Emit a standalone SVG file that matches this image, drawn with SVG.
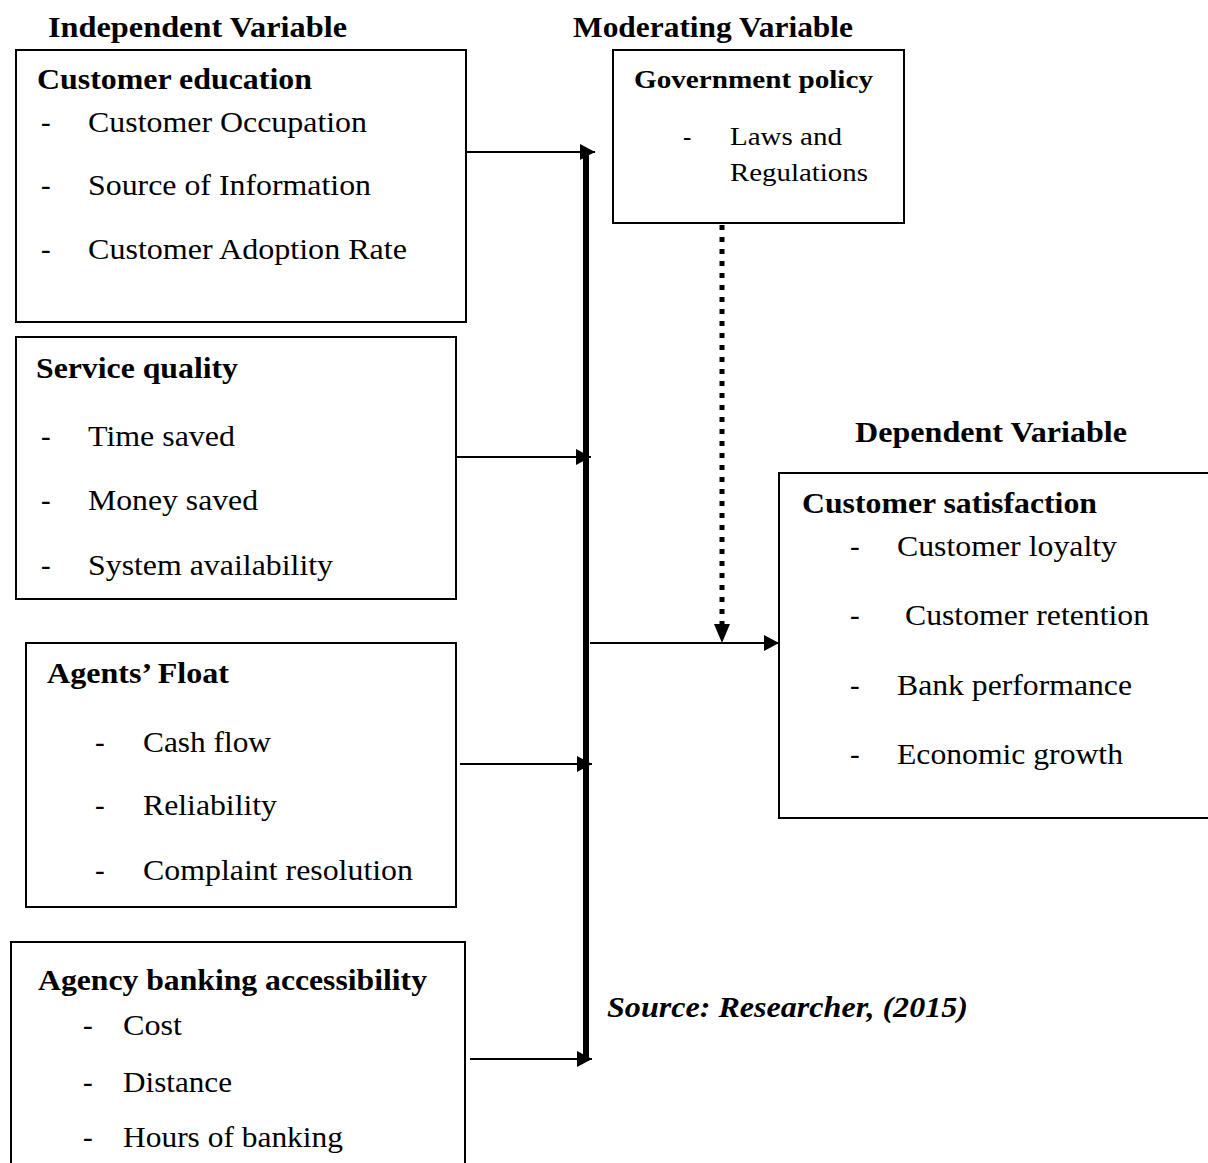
<svg xmlns="http://www.w3.org/2000/svg" width="1208" height="1163" viewBox="0 0 1208 1163">
<style>
text{font-family:"Liberation Serif","Times New Roman",serif;font-size:29px;fill:#000}
.b{font-weight:bold}
.s{font-size:25px}
.bi{font-weight:bold;font-style:italic}
.box{fill:#fff;stroke:#000;stroke-width:2}
.ln{stroke:#000;stroke-width:2;fill:none}
</style>
<defs>
<marker id="ah" markerUnits="userSpaceOnUse" markerWidth="16" markerHeight="16" refX="15" refY="8" orient="auto">
<path d="M0,0 L15,8 L0,16 z" fill="#000"/>
</marker>
</defs>
<rect width="1208" height="1163" fill="#fff"/>
<text class="b" x="48" y="37" textLength="299" lengthAdjust="spacingAndGlyphs">Independent Variable</text>
<text class="b" x="573" y="37" textLength="280" lengthAdjust="spacingAndGlyphs">Moderating Variable</text>
<text class="b" x="855" y="442" textLength="272" lengthAdjust="spacingAndGlyphs">Dependent Variable</text>
<g id="customer-education">
<rect class="box" x="16" y="50" width="450" height="272"/>
<text class="b" x="37" y="89" textLength="275" lengthAdjust="spacingAndGlyphs">Customer education</text>
<text x="41" y="132">-</text><text x="88" y="132" textLength="279" lengthAdjust="spacingAndGlyphs">Customer Occupation</text>
<text x="41" y="195">-</text><text x="88" y="195" textLength="283" lengthAdjust="spacingAndGlyphs">Source of Information</text>
<text x="41" y="259">-</text><text x="88" y="259" textLength="319" lengthAdjust="spacingAndGlyphs">Customer Adoption Rate</text>
</g>
<g id="service-quality">
<rect class="box" x="16" y="337" width="440" height="262"/>
<text class="b" x="36" y="378" textLength="202" lengthAdjust="spacingAndGlyphs">Service quality</text>
<text x="41" y="446">-</text><text x="88" y="446" textLength="147" lengthAdjust="spacingAndGlyphs">Time saved</text>
<text x="41" y="510">-</text><text x="88" y="510" textLength="170" lengthAdjust="spacingAndGlyphs">Money saved</text>
<text x="41" y="575">-</text><text x="88" y="575" textLength="245" lengthAdjust="spacingAndGlyphs">System availability</text>
</g>
<g id="agents-float">
<rect class="box" x="26" y="643" width="430" height="264"/>
<text class="b" x="47" y="683" textLength="182" lengthAdjust="spacingAndGlyphs">Agents’ Float</text>
<text x="95" y="752">-</text><text x="143" y="752" textLength="128" lengthAdjust="spacingAndGlyphs">Cash flow</text>
<text x="95" y="815">-</text><text x="143" y="815" textLength="134" lengthAdjust="spacingAndGlyphs">Reliability</text>
<text x="95" y="880">-</text><text x="143" y="880" textLength="270" lengthAdjust="spacingAndGlyphs">Complaint resolution</text>
</g>
<g id="agency-banking-accessibility">
<rect class="box" x="11" y="942" width="454" height="230"/>
<text class="b" x="38" y="990" textLength="389" lengthAdjust="spacingAndGlyphs">Agency banking accessibility</text>
<text x="83" y="1035">-</text><text x="123" y="1035" textLength="59" lengthAdjust="spacingAndGlyphs">Cost</text>
<text x="83" y="1092">-</text><text x="123" y="1092" textLength="109" lengthAdjust="spacingAndGlyphs">Distance</text>
<text x="83" y="1147">-</text><text x="123" y="1147" textLength="220" lengthAdjust="spacingAndGlyphs">Hours of banking</text>
</g>
<g id="government-policy">
<rect class="box" x="613" y="50" width="291" height="173"/>
<text class="b s" x="634" y="88" textLength="239" lengthAdjust="spacingAndGlyphs">Government policy</text>
<text class="s" x="683" y="145">-</text><text class="s" x="730" y="145" textLength="112" lengthAdjust="spacingAndGlyphs">Laws and</text>
<text class="s" x="730" y="181" textLength="138" lengthAdjust="spacingAndGlyphs">Regulations</text>
</g>
<g id="customer-satisfaction">
<rect class="box" x="779" y="473" width="440" height="345"/>
<text class="b" x="802" y="513" textLength="295" lengthAdjust="spacingAndGlyphs">Customer satisfaction</text>
<text x="850" y="556">-</text><text x="897" y="556" textLength="220" lengthAdjust="spacingAndGlyphs">Customer loyalty</text>
<text x="850" y="625">-</text><text x="905" y="625" textLength="244" lengthAdjust="spacingAndGlyphs">Customer retention</text>
<text x="850" y="695">-</text><text x="897" y="695" textLength="235" lengthAdjust="spacingAndGlyphs">Bank performance</text>
<text x="850" y="764">-</text><text x="897" y="764" textLength="226" lengthAdjust="spacingAndGlyphs">Economic growth</text>
</g>
<text class="bi" x="607" y="1017" textLength="361" lengthAdjust="spacingAndGlyphs">Source: Researcher, (2015)</text>
<g id="connectors">
<line x1="586" y1="154" x2="586" y2="1061" stroke="#000" stroke-width="6"/>
<line class="ln" x1="466" y1="152" x2="595" y2="152" marker-end="url(#ah)"/>
<line class="ln" x1="456" y1="457" x2="591" y2="457" marker-end="url(#ah)"/>
<line class="ln" x1="460" y1="764" x2="592" y2="764" marker-end="url(#ah)"/>
<line class="ln" x1="470" y1="1059" x2="592" y2="1059" marker-end="url(#ah)"/>
<line class="ln" x1="590" y1="643" x2="779" y2="643" marker-end="url(#ah)"/>
<line x1="722" y1="225" x2="722" y2="626" stroke="#000" stroke-width="5" stroke-dasharray="5 7"/>
<path d="M714,624 L730,624 L722,643 z" fill="#000"/>
</g>
</svg>
